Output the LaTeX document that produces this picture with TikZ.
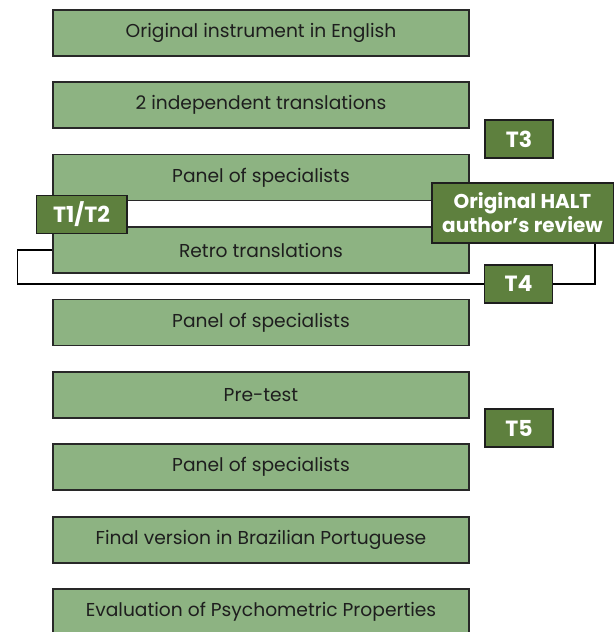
\documentclass[tikz,border=0pt]{standalone}
\usepackage{fontspec}
\setmainfont{Poppins}
\usepackage{tikz}

\definecolor{stepgreen}{RGB}{141,179,130}
\definecolor{taggreen}{RGB}{94,128,62}

\tikzset{
  stepbox/.style={draw={rgb,255:red,40;green,40;blue,40},line width=1pt,fill=stepgreen,
    minimum width=312pt,minimum height=34.5pt,inner sep=0pt,
    font=\fontsize{14}{16}\selectfont,text={rgb,255:red,30;green,30;blue,30}},
  tagbox/.style={draw={rgb,255:red,30;green,30;blue,30},line width=1pt,fill=taggreen,
    minimum width=51pt,minimum height=28.5pt,inner sep=0pt,align=center,
    font=\fontsize{16.5}{18}\selectfont\bfseries,text=white},
}

\begin{document}
\begin{tikzpicture}[x=0.75pt,y=0.75pt,yscale=-1,xscale=1]
\useasboundingbox (0,0) rectangle (614,632);

%Shape: Rectangle [steps]
\node [stepbox] (orig)  at (261,33)    {Original instrument in English};
\node [stepbox] (trans) at (261,105)   {2 independent translations};
\node [stepbox] (pan1)  at (261,177.5) {Panel of specialists};
\node [stepbox] (retro) at (261,250)   {Retro translations};
\node [stepbox] (pan2)  at (261,322.5) {Panel of specialists};
\node [stepbox] (pre)   at (261,395)   {Pre-test};
\node [stepbox] (pan3)  at (261,467)   {Panel of specialists};
\node [stepbox] (final) at (261,540)   {Final version in Brazilian Portuguese};
\node [stepbox] (eval)  at (261,612)   {Evaluation of Psychometric Properties};

%Shape: Rectangle [tags]
\node [tagbox] (t3)   at (519,139)   {T3};
\node [tagbox] (t4)   at (518.5,284) {T4};
\node [tagbox] (t5)   at (519,428)   {T5};
\node [tagbox,minimum width=68pt] (t12) at (81.5,214.5) {T1/T2};
\node [tagbox,minimum width=136pt,minimum height=45pt,font=\fontsize{15}{18}\selectfont\bfseries] (halt) at (522.5,213) {Original HALT\\author's review};

%Straight Lines [loop]
\draw [line width=0.9pt] (retro.west) -- ++(-35,0) |- (t4.west) ;
\draw [line width=0.9pt] (t4.east) -| ([xshift=54.4pt]halt.south) ;

\end{tikzpicture}
\end{document}
